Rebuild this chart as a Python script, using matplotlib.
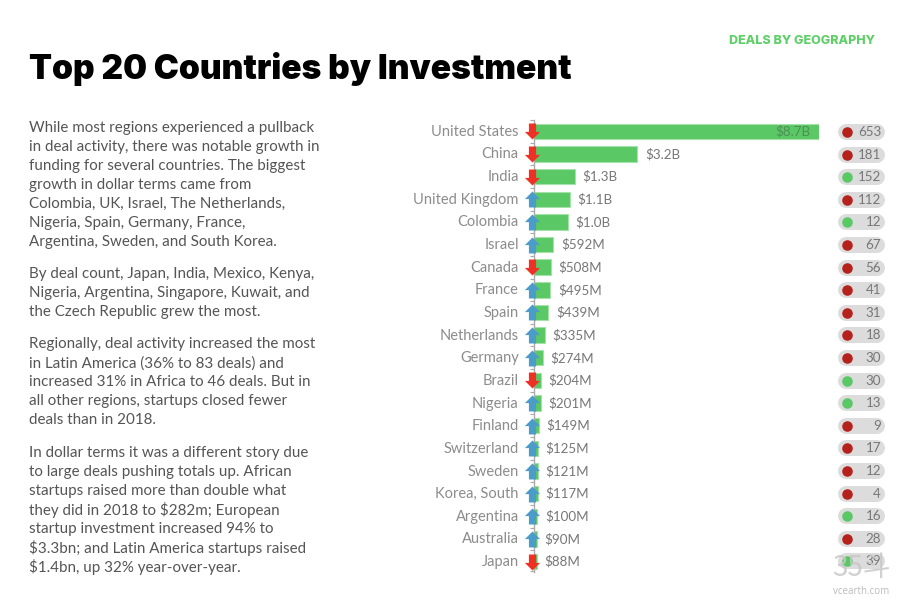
import matplotlib
matplotlib.use('Agg')
import matplotlib.pyplot as plt
from matplotlib.path import Path
from matplotlib.transforms import ScaledTranslation

countries = ['United States', 'China', 'India', 'United Kingdom', 'Colombia', 'Israel', 'Canada', 'France',
             'Spain', 'Netherlands', 'Germany', 'Brazil', 'Nigeria', 'Finland', 'Switzerland', 'Sweden',
             'Korea, South', 'Argentina', 'Australia', 'Japan']
funding = [8700, 3150, 1250, 1090, 1040, 592, 508, 495, 439, 335, 274, 204, 201, 149, 125, 121, 117, 100, 90, 88]
funding_labels = ['$8.7B', '$3.2B', '$1.3B', '$1.1B', '$1.0B', '$592M', '$508M', '$495M', '$439M', '$335M',
                  '$274M', '$204M', '$201M', '$149M', '$125M', '$121M', '$117M', '$100M', '$90M', '$88M']
funding_up = [0, 0, 0, 1, 1, 1, 0, 1, 1, 1, 1, 0, 1, 1, 1, 1, 1, 1, 1, 0]
deals = [653, 181, 152, 112, 12, 67, 56, 41, 31, 18, 30, 30, 13, 9, 17, 12, 4, 16, 28, 39]
deals_up = [0, 0, 1, 0, 1, 0, 0, 0, 0, 0, 0, 1, 1, 0, 0, 0, 0, 1, 0, 1]

paragraphs = [
    ['While most regions experienced a pullback', 'in deal activity, there was notable growth in',
     'funding for several countries. The biggest', 'growth in dollar terms came from',
     'Colombia, UK, Israel, The Netherlands,', 'Nigeria, Spain, Germany, France,',
     'Argentina, Sweden, and South Korea.'],
    ['By deal count, Japan, India, Mexico, Kenya,', 'Nigeria, Argentina, Singapore, Kuwait, and',
     'the Czech Republic grew the most.'],
    ['Regionally, deal activity increased the most', 'in Latin America (36% to 83 deals) and',
     'increased 31% in Africa to 46 deals. But in', 'all other regions, startups closed fewer',
     'deals than in 2018.'],
    ['In dollar terms it was a different story due', 'to large deals pushing totals up. African',
     'startups raised more than double what', 'they did in 2018 to $282m; European',
     'startup investment increased 94% to', '$3.3bn; and Latin America startups raised',
     '$1.4bn, up 32% year-over-year.'],
]
paragraph_tops = [128, 274, 344, 453]

W, H = 903, 610
GREEN = '#5ac864'
RED = '#ee3124'
BLUE = '#4b9cc8'
DARK_RED = '#b5211b'
GREY = '#8c8c8c'
BODY_FONT = 'Lato'


def box(x0, y0, x1, y1):
    # pixel box (y from top) to figure fractions
    return [x0 / W, 1 - y1 / H, (x1 - x0) / W, (y1 - y0) / H]


fig = plt.figure(figsize=(W / 100, H / 100), dpi=100)

fig.text(29 / W, 1 - 69 / H, 'Top 20 Countries by Investment', family='Inter', weight='black',
         fontsize=24.2, color='black', va='center', ha='left')
fig.text(875 / W, 1 - 40.5 / H, 'DEALS BY GEOGRAPHY', family='Inter', weight='heavy', fontsize=9,
         color='#5fd068', va='center', ha='right')

for lines, top in zip(paragraphs, paragraph_tops):
    for i, line in enumerate(lines):
        fig.text(29 / W, 1 - (top + i * 19.05) / H, line, family=BODY_FONT, fontsize=10.9, color='#555555',
                 va='center', ha='left')

rows = list(range(len(countries)))

# bars, axis starts at pixel x=534
ax = fig.add_axes(box(534, 120, 819, 572))
ax.set_xlim(0, 8700)
ax.set_ylim(19.46, -0.485)
ax.patch.set_alpha(0)
ax.barh(rows, funding, height=0.68, color=GREEN, edgecolor='#a5e2aa', linewidth=0.8, zorder=2)
for side in ['top', 'right', 'bottom']:
    ax.spines[side].set_visible(False)
ax.spines['left'].set_color('#aaaaaa')
ax.spines['left'].set_linewidth(1)
ax.set_xticks([])
ax.set_yticks(rows)
ax.set_yticklabels(countries, family=BODY_FONT, fontsize=10.5, color=GREY)
ax.tick_params(axis='y', which='major', length=0, pad=11)
ax.set_yticks([r - 0.5 for r in rows] + [19.4], minor=True)
ax.tick_params(axis='y', which='minor', length=3, width=0.8, color='#aaaaaa')
for tick_label in ax.get_yticklabels():
    tick_label.set_transform(tick_label.get_transform() + ScaledTranslation(0, 1 / 100, fig.dpi_scale_trans))

for i, label in enumerate(funding_labels):
    if i == 0:
        ax.annotate(label, (funding[i], i), xytext=(-6, 0), textcoords='offset points', ha='right', va='center',
                    family=BODY_FONT, fontsize=9.6, color='#4f8f55')
    else:
        ax.annotate(label, (funding[i], i), xytext=(5.5, 0), textcoords='offset points', ha='left', va='center',
                    family=BODY_FONT, fontsize=9.6, color='#777777')

# change arrows on the axis line
up_arrow = Path([(-0.95, 0.05), (0, 1), (0.95, 0.05), (0.45, 0.05), (0.45, -1), (-0.45, -1), (-0.45, 0.05), (-0.95, 0.05)], closed=True)
down_arrow = Path([(-0.95, -0.05), (0, -1), (0.95, -0.05), (0.45, -0.05), (0.45, 1), (-0.45, 1), (-0.45, -0.05), (-0.95, -0.05)], closed=True)
for i, up in enumerate(funding_up):
    ax.plot([-50], [i], marker=up_arrow if up else down_arrow, color=BLUE if up else RED, markersize=11.5,
            markeredgewidth=0, linestyle='none', zorder=5, clip_on=False)

# deal count pills
ax2 = fig.add_axes(box(838, 120, 885, 572))
ax2.set_xlim(838, 885)
ax2.set_ylim(19.47, -0.53)
ax2.axis('off')
for i, n in enumerate(deals):
    ax2.plot([846, 877], [i, i], color='#dcdcdc', lw=11.5, solid_capstyle='round', zorder=1, clip_on=False)
    ax2.plot([846.5], [i], marker='o', markersize=7.6, markeredgewidth=0, linestyle='none', zorder=2,
             color=GREEN if deals_up[i] else DARK_RED)
    ax2.text(881, i, str(n), ha='right', va='center', family=BODY_FONT, fontsize=9.6, color='#777777', zorder=3)

# site mark over the corner
fig.text(861 / W, 1 - 568 / H, '35斗', family=['Noto Sans CJK SC', 'DejaVu Sans'], fontsize=20, color='#c8c8c8',
         alpha=0.85, ha='center', va='center')
fig.text(861 / W, 1 - 592 / H, 'vcearth.com', family='Open Sans', fontsize=7, color='#bbbbbb', ha='center',
         va='center')

fig.savefig('out.png', dpi=100)
